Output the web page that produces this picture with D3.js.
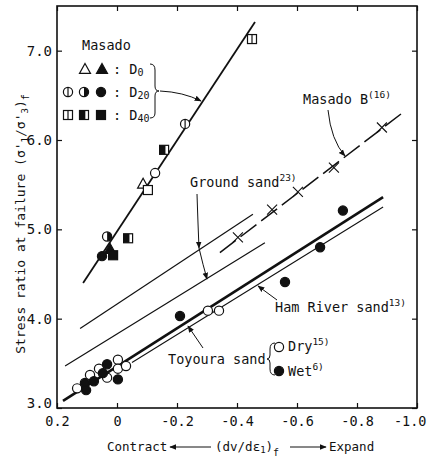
<!DOCTYPE html>
<html>
<head>
<meta charset="utf-8">
<script src="https://cdn.jsdelivr.net/npm/d3@7"></script>
<style>
  body { margin: 0; background: #fff; }
  svg text { font-family: "DejaVu Sans Mono", monospace; fill: #111; }
</style>
</head>
<body>
<div id="main"></div>
<script>
const W = 427, H = 458;

// axis ticks
const xTicks = [0.2, 0, -0.2, -0.4, -0.6, -0.8, -1.0];
const yTicks = [3, 4, 5, 6, 7];

// Masado (this study), [dv/de1, stress ratio]
const masadoD0Open = [[-0.087, 5.51]];
const masadoD0Solid = [[0.023, 4.78]];
const masadoD20Line = [[-0.227, 6.18]];
const masadoD20Open = [[-0.127, 5.63]];
const masadoD20Half = [[0.033, 4.92]];
const masadoD20Solid = [[0.05, 4.70]];
const masadoD40Line = [[-0.45, 7.13]];
const masadoD40Open = [[-0.103, 5.44]];
const masadoD40Half = [[-0.157, 5.89], [-0.037, 4.90]];
const masadoD40Solid = [[0.013, 4.71]];

// Masado B
const masadoBX = [-0.403, -0.517, -0.603, -0.723, -0.883];
const masadoBY = [4.91, 5.22, 5.42, 5.69, 6.14];

// Toyoura sand
const dryX = [0.133, 0.09, 0.06, 0.033, -0.003, -0.003, -0.03, -0.303, -0.34];
const dryY = [3.22, 3.37, 3.44, 3.34, 3.54, 3.44, 3.47, 4.09, 4.09];
const wetX = [0.107, 0.103, 0.077, 0.047, 0.033, -0.003, -0.21, -0.56, -0.677, -0.753];
const wetY = [3.28, 3.20, 3.30, 3.39, 3.49, 3.32, 4.03, 4.41, 4.80, 5.21];

// fitted lines (end points)
const masadoLine = [[0.113, 4.40], [-0.46, 7.32]];
const groundUpper = [[0.123, 3.89], [-0.453, 5.17]];
const groundLower = [[0.173, 3.47], [-0.493, 4.85]];
const masadoBLine = [[-0.343, 4.74], [-0.95, 6.30]];
const toyouraLine = [[0.18, 3.08], [-0.887, 5.36]];
const hamRiverLine = [[-0.05, 3.51], [-0.887, 5.25]];

const x = d3.scaleLinear().domain([0.2, -1.0]).range([57, 417]);
const y = d3.scaleLinear().domain([3.0, 7.5]).range([408, 6]);

const svg = d3.select("#main").append("svg")
    .attr("width", W)
    .attr("height", H);

const defs = svg.append("defs");
defs.append("marker")
    .attr("id", "head")
    .attr("viewBox", "0 0 10 10")
    .attr("refX", 9).attr("refY", 5)
    .attr("markerWidth", 7).attr("markerHeight", 7)
    .attr("markerUnits", "userSpaceOnUse")
    .attr("orient", "auto")
    .append("path")
    .attr("d", "M0,1 L10,5 L0,9 Z")
    .attr("fill", "#111");

const fmt = d => d === 0 ? "0" : d.toFixed(1);

// axes (ticks point inward)
const gx = svg.append("g")
    .attr("transform", `translate(0,${y(3)})`)
    .call(d3.axisBottom(x).tickValues(xTicks).tickSizeInner(-5).tickSizeOuter(0).tickPadding(8).tickFormat(fmt));
const gxt = svg.append("g")
    .attr("transform", `translate(0,${y(7.5)})`)
    .call(d3.axisTop(x).tickValues(xTicks).tickSizeInner(-5).tickSizeOuter(0).tickFormat(""));
const gy = svg.append("g")
    .attr("transform", `translate(${x(0.2)},0)`)
    .call(d3.axisLeft(y).tickValues(yTicks).tickSizeInner(-5).tickSizeOuter(0).tickPadding(5).tickFormat(d => d.toFixed(1)));
const gyr = svg.append("g")
    .attr("transform", `translate(${x(-1.0)},0)`)
    .call(d3.axisRight(y).tickValues(yTicks).tickSizeInner(-5).tickSizeOuter(0).tickFormat(""));

[gx, gxt, gy, gyr].forEach(g => {
    g.select(".domain").remove();
    g.selectAll("line").attr("stroke", "#111").attr("stroke-width", 1.2);
    g.selectAll("text").attr("font-size", 14).attr("font-family", "DejaVu Sans Mono").attr("fill", "#111");
});
gx.selectAll("text").attr("font-size", 13.5);
// last x label sits against the right edge
gx.selectAll(".tick").filter(d => d === -1.0).select("text")
    .attr("text-anchor", "end").attr("x", 9);
// bottom y label is lifted a little off the x axis
gy.selectAll(".tick").filter(d => d === 3).select("text").attr("y", -5);

svg.append("rect")
    .attr("x", x(0.2)).attr("y", y(7.5))
    .attr("width", x(-1.0) - x(0.2))
    .attr("height", y(3) - y(7.5))
    .attr("fill", "none")
    .attr("stroke", "#111")
    .attr("stroke-width", 1.6);

// fitted lines
const line = d3.line().x(d => x(d[0])).y(d => y(d[1]));
const plot = svg.append("g");

plot.append("path").attr("d", line(masadoLine))
    .attr("stroke", "#111").attr("stroke-width", 1.8).attr("fill", "none");
plot.append("path").attr("d", line(groundUpper))
    .attr("stroke", "#111").attr("stroke-width", 1.2).attr("fill", "none");
plot.append("path").attr("d", line(groundLower))
    .attr("stroke", "#111").attr("stroke-width", 1.2).attr("fill", "none");
plot.append("path").attr("d", line(masadoBLine))
    .attr("stroke", "#111").attr("stroke-width", 1.5).attr("fill", "none")
    .attr("stroke-dasharray", "20,6");
plot.append("path").attr("d", line(toyouraLine))
    .attr("stroke", "#111").attr("stroke-width", 2.6).attr("fill", "none");
plot.append("path").attr("d", line(hamRiverLine))
    .attr("stroke", "#111").attr("stroke-width", 1.1).attr("fill", "none");

// symbols
function sym(g, type, cx, cy) {
    const r = 4.6, s = 4.5, t = 5.5;
    if (type.startsWith("circ")) {
        const fill = type === "circ-solid" ? "#111" : "#fff";
        g.append("circle").attr("cx", cx).attr("cy", cy).attr("r", r)
            .attr("fill", fill).attr("stroke", "#111").attr("stroke-width", 1.2);
        if (type === "circ-half") {
            g.append("path")
                .attr("d", `M${cx},${cy - r} A${r},${r} 0 0 1 ${cx},${cy + r} Z`)
                .attr("fill", "#111");
        }
        if (type === "circ-line") {
            g.append("line").attr("x1", cx).attr("x2", cx).attr("y1", cy - r).attr("y2", cy + r)
                .attr("stroke", "#111").attr("stroke-width", 1.2);
        }
    } else if (type.startsWith("sq")) {
        const fill = type === "sq-solid" ? "#111" : "#fff";
        g.append("rect").attr("x", cx - s).attr("y", cy - s).attr("width", 2 * s).attr("height", 2 * s)
            .attr("fill", fill).attr("stroke", "#111").attr("stroke-width", 1.2);
        if (type === "sq-half") {
            g.append("rect").attr("x", cx - s).attr("y", cy - s).attr("width", s * 1.3).attr("height", 2 * s)
                .attr("fill", "#111");
        }
        if (type === "sq-line") {
            g.append("line").attr("x1", cx).attr("x2", cx).attr("y1", cy - s).attr("y2", cy + s)
                .attr("stroke", "#111").attr("stroke-width", 1.2);
        }
    } else if (type.startsWith("tri")) {
        const fill = type === "tri-solid" ? "#111" : "#fff";
        g.append("path")
            .attr("d", `M${cx},${cy - t} L${cx + t},${cy + t * 0.8} L${cx - t},${cy + t * 0.8} Z`)
            .attr("fill", fill).attr("stroke", "#111").attr("stroke-width", 1.2);
    } else if (type === "cross") {
        g.append("path")
            .attr("d", `M${cx - 5},${cy - 5} L${cx + 5},${cy + 5} M${cx - 5},${cy + 5} L${cx + 5},${cy - 5}`)
            .attr("stroke", "#111").attr("stroke-width", 1.1);
    }
}

const pts = svg.append("g");
const groups = [
    [masadoD0Open, "tri-open"], [masadoD0Solid, "tri-solid"],
    [masadoD20Line, "circ-line"], [masadoD20Open, "circ-open"],
    [masadoD20Half, "circ-half"], [masadoD20Solid, "circ-solid"],
    [masadoD40Line, "sq-line"], [masadoD40Open, "sq-open"],
    [masadoD40Half, "sq-half"], [masadoD40Solid, "sq-solid"]
];
groups.forEach(([arr, type]) => arr.forEach(d => sym(pts, type, x(d[0]), y(d[1]))));
dryX.forEach((v, i) => sym(pts, "circ-open", x(v), y(dryY[i])));
wetX.forEach((v, i) => sym(pts, "circ-solid", x(v), y(wetY[i])));
masadoBX.forEach((v, i) => sym(pts, "cross", x(v), y(masadoBY[i])));

// legend for Masado
const leg = svg.append("g");
const fs = 13.5;
leg.append("text").attr("x", 82).attr("y", 50).attr("font-size", fs).text("Masado");
const legRows = [
    { y: 69, syms: [["tri-open", 85], ["tri-solid", 102]], sub: "0" },
    { y: 92, syms: [["circ-line", 68], ["circ-half", 84], ["circ-solid", 101]], sub: "20" },
    { y: 115, syms: [["sq-line", 68], ["sq-half", 84], ["sq-solid", 101]], sub: "40" }
];
legRows.forEach(r => {
    r.syms.forEach(([t, cx]) => sym(leg, t, cx, r.y));
    const tx = leg.append("text").attr("x", 113).attr("y", r.y + 5).attr("font-size", fs);
    tx.append("tspan").text(": D");
    tx.append("tspan").attr("font-size", 10).attr("dy", 2).text(r.sub);
});
// brace
leg.append("path")
    .attr("d", "M150,64 Q155,64 155,70 L155,86 Q155,91 159,91 Q155,91 155,96 L155,113 Q155,118 150,118")
    .attr("fill", "none").attr("stroke", "#111").attr("stroke-width", 1);
leg.append("path")
    .attr("d", "M160,91 Q183,92 201,101")
    .attr("fill", "none").attr("stroke", "#111").attr("stroke-width", 1)
    .attr("marker-end", "url(#head)");

// text annotations
function label(xp, yp, main, sup, size) {
    const t = svg.append("text").attr("x", xp).attr("y", yp).attr("font-size", size || fs);
    t.append("tspan").text(main);
    if (sup) t.append("tspan").attr("font-size", 9.5).attr("dy", -6).text(sup);
    return t;
}
label(190, 187, "Ground sand", "23)");
label(303, 104, "Masado B", "(16)");
label(275, 312, "Ham River sand", "13)");
label(168, 364, "Toyoura sand", null);
label(288, 351, "Dry", "15)");
label(288, 376, "Wet", "6)");

sym(svg, "circ-open", 279, 347);
sym(svg, "circ-solid", 279, 371);
svg.append("path")
    .attr("d", "M275,343 Q270,343 270,349 L270,355 Q270,359 267,359 Q270,359 270,363 L270,369 Q270,375 275,375")
    .attr("fill", "none").attr("stroke", "#111").attr("stroke-width", 1);

// arrows
const arrow = (d) => svg.append("path").attr("d", d)
    .attr("fill", "none").attr("stroke", "#111").attr("stroke-width", 1)
    .attr("marker-end", "url(#head)");
arrow("M197,194 Q198,225 199,248");
arrow("M199,248 Q203,265 207,279");
arrow("M328,110 Q331,140 345,156");
arrow("M277,300 L258,286");
arrow("M203,348 L188,326");

// axis titles
const ylab = svg.append("text")
    .attr("transform", "translate(25,224) rotate(-90)")
    .attr("text-anchor", "middle")
    .attr("font-size", 13);
ylab.append("tspan").text("Stress ratio at failure (σ'");
ylab.append("tspan").attr("font-size", 9).attr("dy", 3).text("1");
ylab.append("tspan").attr("dy", -3).text("/σ'");
ylab.append("tspan").attr("font-size", 9).attr("dy", 3).text("3");
ylab.append("tspan").attr("dy", -3).text(")");
ylab.append("tspan").attr("font-size", 10).attr("dy", 4).text("f");

const xlab = svg.append("g");
xlab.append("text").attr("x", 107).attr("y", 451).attr("font-size", 12.5).text("Contract");
const xl2 = xlab.append("text").attr("x", 215).attr("y", 451).attr("font-size", 12.5);
xl2.append("tspan").text("(dv/dε");
xl2.append("tspan").attr("font-size", 9).attr("dy", 2).text("1");
xl2.append("tspan").attr("dy", -2).text(")");
xl2.append("tspan").attr("font-size", 10).attr("dy", 5).text("f");
xlab.append("text").attr("x", 329).attr("y", 451).attr("font-size", 12.5).text("Expand");
arrow("M211,447 L170,447");
arrow("M290,447 L326,447");
</script>
</body>
</html>
